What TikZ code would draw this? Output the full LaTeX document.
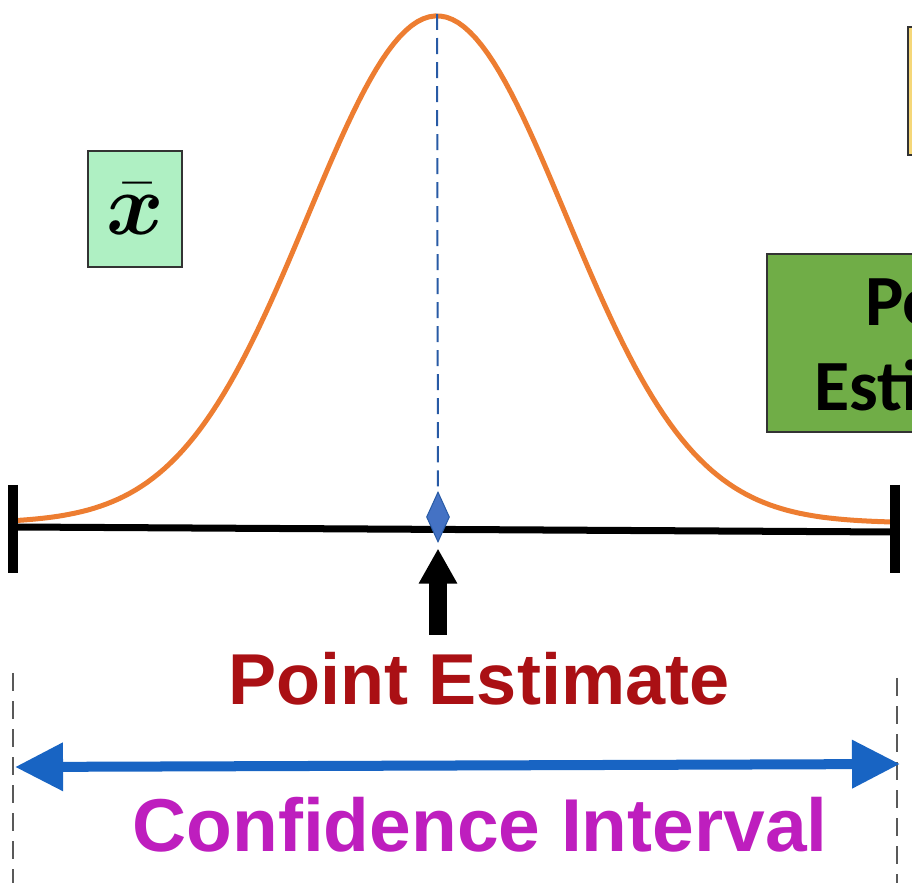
\documentclass[tikz,border=0pt]{standalone}
\usepackage{fontspec}
\usepackage{bm}
\setmainfont{Liberation Sans}
\newfontfamily\calibrifont{Carlito}
\usetikzlibrary{arrows.meta,shapes.geometric}
\definecolor{bellorange}{RGB}{237,125,49}
\definecolor{meanblue}{RGB}{40,90,165}
\definecolor{diamondblue}{RGB}{68,114,196}
\definecolor{pointred}{RGB}{170,16,20}
\definecolor{cimagenta}{RGB}{190,30,190}
\definecolor{ciblue}{RGB}{24,100,195}
\definecolor{lightgreen}{RGB}{175,240,195}
\definecolor{darkgreen}{RGB}{112,173,71}
\definecolor{paleyellow}{RGB}{245,215,120}
\begin{document}
\begin{tikzpicture}[x=0.01cm,y=-0.01cm,
    bell/.style={bellorange,line width=0.05cm,line join=round},
    meanline/.style={meanblue,line width=0.02cm,dash pattern=on 0.16cm off 0.08cm},
    guide/.style={black!65,line width=0.025cm,dash pattern=on 0.18cm off 0.1cm},
    axisline/.style={black,line width=0.07cm},
    endbar/.style={black,line width=0.1cm},
    xbarbox/.style={draw=black!80,fill=lightgreen,line width=0.02cm,minimum width=0.93cm,minimum height=1.16cm,inner sep=0,
      font=\fontsize{26}{28}\selectfont},
    greenbox/.style={draw=black!80,fill=darkgreen,line width=0.025cm,minimum width=3.54cm,minimum height=1.78cm,align=center,
      font=\calibrifont\bfseries\fontsize{20.5}{23.9}\selectfont},
    yellowbox/.style={draw=black!80,fill=paleyellow,line width=0.02cm,minimum width=1cm,minimum height=1.27cm,inner sep=0},
    estimate/.style={shape=diamond,draw=meanblue,fill=diamondblue,line width=0.01cm,minimum width=0.23cm,minimum height=0.5cm,inner sep=0},
    bigtext/.style={font=\bfseries\fontsize{20.5}{24}\selectfont,anchor=base}]
    \useasboundingbox (0,0) rectangle (912,883);
    \clip (0,0) rectangle (912,883);
    % sampling distribution
    \draw[bell] plot[domain=18:893,samples=150] (\x,{523-507*exp(-0.5*((\x-437)/129)*((\x-437)/129))});
    % boxes
    \node[xbarbox] (xbar) at (135,209) {$\bm{\bar{x}}$};
    \node[greenbox] (ptbox) at (944,343) {Point\\Estimate};
    \node[yellowbox] (topbox) at (958,91) {};
    % interval line with end bars
    \coordinate (lend) at (15,527);
    \coordinate (rend) at (893,532);
    \draw[axisline] (lend) -- (rend);
    \draw[endbar] (13,485) -- (13,573);
    \draw[endbar] (895,485) -- (895,573);
    % point estimate on the line
    \node[estimate] (pe) at (438,517) {};
    \coordinate (peak) at (437,14);
    \draw[meanline] (peak) -- (pe.north);
    \coordinate (arrowfoot) at (438,635);
    \draw[black,line width=0.18cm,-{Triangle[length=0.35cm,width=0.36cm]}] (arrowfoot) -- ([yshift=-0.06cm]pe.south);
    \node[bigtext,text=pointred] (pelabel) at (479,705) {Point Estimate};
    % confidence interval
    \coordinate (cileft) at (15,767);
    \coordinate (ciright) at (900,764);
    \draw[guide] (13,673) -- (13,883);
    \draw[guide] (897,678) -- (897,883);
    \draw[ciblue,line width=0.1cm,{Triangle[length=0.48cm,width=0.46cm]}-{Triangle[length=0.48cm,width=0.46cm]}] (cileft) -- (ciright);
    \node[bigtext,text=cimagenta,font=\bfseries\fontsize{21.3}{25}\selectfont] (cilabel) at (480,852) {Confidence Interval};
\end{tikzpicture}
\end{document}
